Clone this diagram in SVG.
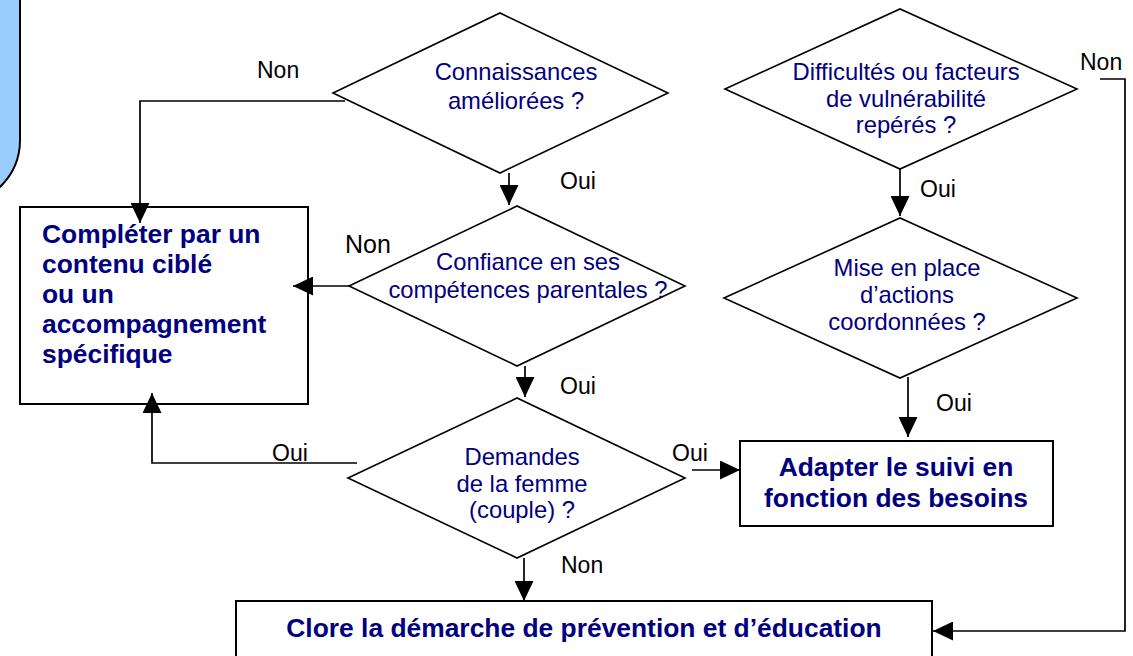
<svg xmlns="http://www.w3.org/2000/svg" width="1133" height="656" viewBox="0 0 1133 656">
<style>
.shape{fill:#fff;stroke:#000;stroke-width:1.6}
.box{fill:#fff;stroke:#000;stroke-width:2}
.q{font-family:"Liberation Sans",Arial,sans-serif;font-size:23.8px;fill:#000080;text-anchor:middle}
.b{font-family:"Liberation Sans",Arial,sans-serif;font-size:26.4px;font-weight:bold;fill:#000080}
.bc{text-anchor:middle}
.lbl{font-family:"Liberation Sans",Arial,sans-serif;font-size:23px;fill:#000}
.con{fill:none;stroke:#000;stroke-width:1.7}
</style>
<defs>
<marker id="ah" viewBox="0 0 20 19" refX="20" refY="9.5" markerWidth="20" markerHeight="19" markerUnits="userSpaceOnUse" orient="auto">
<path d="M0,0 L20,9.5 L0,19 z" fill="#000"/>
</marker>
</defs>
<rect width="1133" height="656" fill="#fff"/>
<rect x="-110" y="-80" width="130" height="285" rx="65" ry="65" fill="#99CCFF" stroke="#000" stroke-width="2"/>

<g id="d1">
<polygon class="shape" points="333,93 500,13 668,93 500,173"/>
<text class="q" x="516" y="80">Connaissances</text>
<text class="q" x="516" y="109">améliorées ?</text>
</g>
<g id="d2">
<polygon class="shape" points="349,286 517,206 685,286 517,366"/>
<text class="q" x="528" y="270">Confiance en ses</text>
<text class="q" x="528" y="298">compétences parentales ?</text>
</g>
<g id="d3">
<polygon class="shape" points="348,478 517,398 685,478 517,558"/>
<text class="q" x="522" y="465">Demandes</text>
<text class="q" x="522" y="492">de la femme</text>
<text class="q" x="522" y="518">(couple) ?</text>
</g>
<g id="d4">
<polygon class="shape" points="725,89 900,9 1077,89 900,169"/>
<text class="q" x="906" y="80">Difficultés ou facteurs</text>
<text class="q" x="906" y="107">de vulnérabilité</text>
<text class="q" x="906" y="133">repérés ?</text>
</g>
<g id="d5">
<polygon class="shape" points="724,298 900,218 1077,298 900,378"/>
<text class="q" x="907" y="276">Mise en place</text>
<text class="q" x="907" y="303">d’actions</text>
<text class="q" x="907" y="330">coordonnées ?</text>
</g>
<g id="completer">
<rect class="box" x="20" y="207" width="288" height="197"/>
<text class="b" x="42" y="243">Compléter par un</text>
<text class="b" x="42" y="273">contenu ciblé</text>
<text class="b" x="42" y="303">ou un</text>
<text class="b" x="42" y="333">accompagnement</text>
<text class="b" x="42" y="363">spécifique</text>
</g>
<g id="adapter">
<rect class="box" x="740" y="441" width="313" height="85"/>
<text class="b bc" x="896" y="476">Adapter le suivi en</text>
<text class="b bc" x="896" y="507">fonction des besoins</text>
</g>
<g id="clore">
<rect class="box" x="236" y="601" width="696" height="80"/>
<text class="b bc" x="584" y="637">Clore la démarche de prévention et d’éducation</text>
</g>

<g id="connectors">
<polyline class="con" points="345,101 140,101 140,223" marker-end="url(#ah)"/>
<line class="con" x1="509" y1="173" x2="509" y2="205" marker-end="url(#ah)"/>
<line class="con" x1="349" y1="286" x2="293" y2="286" marker-end="url(#ah)"/>
<line class="con" x1="525" y1="366" x2="525" y2="397" marker-end="url(#ah)"/>
<polyline class="con" points="357,463 152,463 152,393" marker-end="url(#ah)"/>
<line class="con" x1="692" y1="470" x2="740" y2="470" marker-end="url(#ah)"/>
<line class="con" x1="524" y1="558" x2="524" y2="601" marker-end="url(#ah)"/>
<line class="con" x1="900" y1="169" x2="900" y2="216" marker-end="url(#ah)"/>
<line class="con" x1="908" y1="377" x2="908" y2="437" marker-end="url(#ah)"/>
<polyline class="con" points="1100,79 1125,79 1125,631 933,631" marker-end="url(#ah)"/>
</g>

<g id="labels">
<text class="lbl" x="257" y="78">Non</text>
<text class="lbl" x="560" y="189">Oui</text>
<text class="lbl" x="345" y="253" style="font-size:25px">Non</text>
<text class="lbl" x="560" y="394">Oui</text>
<text class="lbl" x="272" y="461">Oui</text>
<text class="lbl" x="672" y="461">Oui</text>
<text class="lbl" x="561" y="573">Non</text>
<text class="lbl" x="920" y="197">Oui</text>
<text class="lbl" x="936" y="411">Oui</text>
<text class="lbl" x="1080" y="70">Non</text>
</g>
</svg>
